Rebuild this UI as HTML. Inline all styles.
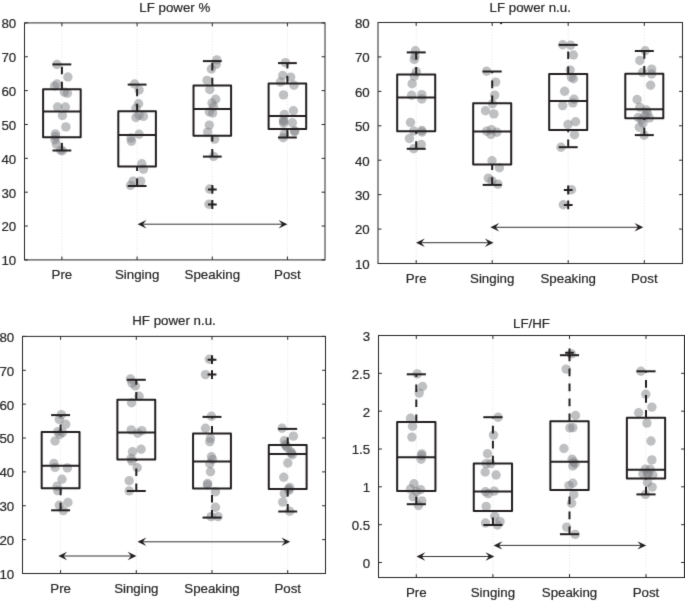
<!DOCTYPE html>
<html><head><meta charset="utf-8"><style>
html,body{margin:0;padding:0;background:#fff;}
body{width:685px;height:603px;overflow:hidden;}
svg{display:block;font-family:"Liberation Sans", sans-serif;font-size:13.3px;fill:#262626;}
text{stroke:#262626;stroke-width:0.2px;}
</style></head><body>
<svg width="685" height="603" viewBox="0 0 685 603">
<defs><filter id="bl" x="0" y="0" width="685" height="603" filterUnits="userSpaceOnUse" color-interpolation-filters="sRGB"><feConvolveMatrix order="3" kernelMatrix="0.0100 0.0800 0.0100 0.0800 0.6400 0.0800 0.0100 0.0800 0.0100" preserveAlpha="true" edgeMode="duplicate"/></filter></defs>
<rect width="685" height="603" fill="#fff"/>
<g filter="url(#bl)">
<rect width="685" height="603" fill="#fff"/>
<line x1="61.9" y1="22.9" x2="61.9" y2="259.9" stroke="#ebebeb" stroke-width="1" stroke-dasharray="1.5 1.5"/>
<line x1="137.1" y1="22.9" x2="137.1" y2="259.9" stroke="#ebebeb" stroke-width="1" stroke-dasharray="1.5 1.5"/>
<line x1="212.3" y1="22.9" x2="212.3" y2="259.9" stroke="#ebebeb" stroke-width="1" stroke-dasharray="1.5 1.5"/>
<line x1="287.4" y1="22.9" x2="287.4" y2="259.9" stroke="#ebebeb" stroke-width="1" stroke-dasharray="1.5 1.5"/>
<circle cx="56.9" cy="64.5" r="4.7" fill="#808285" fill-opacity="0.5"/>
<circle cx="67.9" cy="77" r="4.7" fill="#808285" fill-opacity="0.5"/>
<circle cx="54.5" cy="86" r="4.7" fill="#808285" fill-opacity="0.5"/>
<circle cx="57" cy="84" r="4.7" fill="#808285" fill-opacity="0.5"/>
<circle cx="64.4" cy="92.3" r="4.7" fill="#808285" fill-opacity="0.5"/>
<circle cx="67.4" cy="93.3" r="4.7" fill="#808285" fill-opacity="0.5"/>
<circle cx="57.6" cy="107" r="4.7" fill="#808285" fill-opacity="0.5"/>
<circle cx="65.4" cy="107" r="4.7" fill="#808285" fill-opacity="0.5"/>
<circle cx="62.4" cy="115.4" r="4.7" fill="#808285" fill-opacity="0.5"/>
<circle cx="65.9" cy="126.9" r="4.7" fill="#808285" fill-opacity="0.5"/>
<circle cx="55.4" cy="133.9" r="4.7" fill="#808285" fill-opacity="0.5"/>
<circle cx="54.9" cy="139.8" r="4.7" fill="#808285" fill-opacity="0.5"/>
<circle cx="56.4" cy="144.3" r="4.7" fill="#808285" fill-opacity="0.5"/>
<circle cx="60.6" cy="150.2" r="4.7" fill="#808285" fill-opacity="0.5"/>
<circle cx="62.4" cy="150.8" r="4.7" fill="#808285" fill-opacity="0.5"/>
<circle cx="55.6" cy="136.5" r="4.7" fill="#808285" fill-opacity="0.5"/>
<circle cx="134.6" cy="84" r="4.7" fill="#808285" fill-opacity="0.5"/>
<circle cx="139.1" cy="90" r="4.7" fill="#808285" fill-opacity="0.5"/>
<circle cx="138.6" cy="103.7" r="4.7" fill="#808285" fill-opacity="0.5"/>
<circle cx="135.9" cy="108.3" r="4.7" fill="#808285" fill-opacity="0.5"/>
<circle cx="139.1" cy="115.3" r="4.7" fill="#808285" fill-opacity="0.5"/>
<circle cx="143.4" cy="116.4" r="4.7" fill="#808285" fill-opacity="0.5"/>
<circle cx="135.9" cy="117.5" r="4.7" fill="#808285" fill-opacity="0.5"/>
<circle cx="139.1" cy="134.2" r="4.7" fill="#808285" fill-opacity="0.5"/>
<circle cx="131" cy="138" r="4.7" fill="#808285" fill-opacity="0.5"/>
<circle cx="131.4" cy="141.2" r="4.7" fill="#808285" fill-opacity="0.5"/>
<circle cx="141.8" cy="163.8" r="4.7" fill="#808285" fill-opacity="0.5"/>
<circle cx="143.4" cy="169.2" r="4.7" fill="#808285" fill-opacity="0.5"/>
<circle cx="140.7" cy="181.1" r="4.7" fill="#808285" fill-opacity="0.5"/>
<circle cx="133.2" cy="181.1" r="4.7" fill="#808285" fill-opacity="0.5"/>
<circle cx="130.5" cy="185.4" r="4.7" fill="#808285" fill-opacity="0.5"/>
<circle cx="216.8" cy="59.9" r="4.7" fill="#808285" fill-opacity="0.5"/>
<circle cx="216.3" cy="64.2" r="4.7" fill="#808285" fill-opacity="0.5"/>
<circle cx="211.4" cy="69" r="4.7" fill="#808285" fill-opacity="0.5"/>
<circle cx="207.1" cy="80.4" r="4.7" fill="#808285" fill-opacity="0.5"/>
<circle cx="209.8" cy="89.5" r="4.7" fill="#808285" fill-opacity="0.5"/>
<circle cx="215.7" cy="99.2" r="4.7" fill="#808285" fill-opacity="0.5"/>
<circle cx="212" cy="103" r="4.7" fill="#808285" fill-opacity="0.5"/>
<circle cx="213.6" cy="106.8" r="4.7" fill="#808285" fill-opacity="0.5"/>
<circle cx="209.4" cy="111.9" r="4.7" fill="#808285" fill-opacity="0.5"/>
<circle cx="212.6" cy="113" r="4.7" fill="#808285" fill-opacity="0.5"/>
<circle cx="209.3" cy="125.1" r="4.7" fill="#808285" fill-opacity="0.5"/>
<circle cx="207.7" cy="132.1" r="4.7" fill="#808285" fill-opacity="0.5"/>
<circle cx="214.7" cy="139.1" r="4.7" fill="#808285" fill-opacity="0.5"/>
<circle cx="213.6" cy="156.4" r="4.7" fill="#808285" fill-opacity="0.5"/>
<circle cx="209.6" cy="189" r="4.7" fill="#808285" fill-opacity="0.5"/>
<circle cx="209" cy="204.3" r="4.7" fill="#808285" fill-opacity="0.5"/>
<circle cx="285.4" cy="62.6" r="4.7" fill="#808285" fill-opacity="0.5"/>
<circle cx="282.7" cy="75.5" r="4.7" fill="#808285" fill-opacity="0.5"/>
<circle cx="290.7" cy="77.1" r="4.7" fill="#808285" fill-opacity="0.5"/>
<circle cx="280.5" cy="82" r="4.7" fill="#808285" fill-opacity="0.5"/>
<circle cx="294" cy="85.2" r="4.7" fill="#808285" fill-opacity="0.5"/>
<circle cx="283.5" cy="94.9" r="4.7" fill="#808285" fill-opacity="0.5"/>
<circle cx="293.4" cy="110.7" r="4.7" fill="#808285" fill-opacity="0.5"/>
<circle cx="284.3" cy="114.5" r="4.7" fill="#808285" fill-opacity="0.5"/>
<circle cx="283.7" cy="120" r="4.7" fill="#808285" fill-opacity="0.5"/>
<circle cx="283.7" cy="123.2" r="4.7" fill="#808285" fill-opacity="0.5"/>
<circle cx="292.4" cy="122.7" r="4.7" fill="#808285" fill-opacity="0.5"/>
<circle cx="294.5" cy="131.8" r="4.7" fill="#808285" fill-opacity="0.5"/>
<circle cx="284.3" cy="134" r="4.7" fill="#808285" fill-opacity="0.5"/>
<circle cx="283.2" cy="137.8" r="4.7" fill="#808285" fill-opacity="0.5"/>
<circle cx="294.8" cy="130.8" r="4.7" fill="#808285" fill-opacity="0.5"/>
<circle cx="283.5" cy="121.5" r="4.7" fill="#808285" fill-opacity="0.5"/>
<rect x="43.11" y="89.3" width="37.58" height="47.9" fill="none" stroke="#231f20" stroke-width="2" stroke-linejoin="round"/>
<line x1="43.11" y1="111.6" x2="80.69" y2="111.6" stroke="#231f20" stroke-width="2"/>
<line x1="61.9" y1="89.3" x2="61.9" y2="64.4" stroke="#231f20" stroke-width="2" stroke-dasharray="7.6 7.4"/>
<line x1="61.9" y1="150.5" x2="61.9" y2="137.2" stroke="#231f20" stroke-width="2" stroke-dasharray="7.6 7.4"/>
<line x1="52.5" y1="64.4" x2="71.3" y2="64.4" stroke="#231f20" stroke-width="2"/>
<line x1="52.5" y1="150.5" x2="71.3" y2="150.5" stroke="#231f20" stroke-width="2"/>
<rect x="118.31" y="111.3" width="37.58" height="55.2" fill="none" stroke="#231f20" stroke-width="2" stroke-linejoin="round"/>
<line x1="118.31" y1="134.9" x2="155.89" y2="134.9" stroke="#231f20" stroke-width="2"/>
<line x1="137.1" y1="111.3" x2="137.1" y2="84.6" stroke="#231f20" stroke-width="2" stroke-dasharray="7.6 7.4"/>
<line x1="137.1" y1="186" x2="137.1" y2="166.5" stroke="#231f20" stroke-width="2" stroke-dasharray="7.6 7.4"/>
<line x1="127.7" y1="84.6" x2="146.5" y2="84.6" stroke="#231f20" stroke-width="2"/>
<line x1="127.7" y1="186" x2="146.5" y2="186" stroke="#231f20" stroke-width="2"/>
<rect x="193.51" y="85.4" width="37.58" height="50.3" fill="none" stroke="#231f20" stroke-width="2" stroke-linejoin="round"/>
<line x1="193.51" y1="108.9" x2="231.09" y2="108.9" stroke="#231f20" stroke-width="2"/>
<line x1="212.3" y1="85.4" x2="212.3" y2="61.1" stroke="#231f20" stroke-width="2" stroke-dasharray="7.6 7.4"/>
<line x1="212.3" y1="156.6" x2="212.3" y2="135.7" stroke="#231f20" stroke-width="2" stroke-dasharray="7.6 7.4"/>
<line x1="202.9" y1="61.1" x2="221.7" y2="61.1" stroke="#231f20" stroke-width="2"/>
<line x1="202.9" y1="156.6" x2="221.7" y2="156.6" stroke="#231f20" stroke-width="2"/>
<path d="M207.9 189.4H216.7M212.3 185V193.8" stroke="#231f20" stroke-width="2" fill="none"/>
<path d="M207.9 204.5H216.7M212.3 200.1V208.9" stroke="#231f20" stroke-width="2" fill="none"/>
<rect x="268.61" y="83.6" width="37.58" height="45.4" fill="none" stroke="#231f20" stroke-width="2" stroke-linejoin="round"/>
<line x1="268.61" y1="116.1" x2="306.19" y2="116.1" stroke="#231f20" stroke-width="2"/>
<line x1="287.4" y1="83.6" x2="287.4" y2="63.1" stroke="#231f20" stroke-width="2" stroke-dasharray="7.6 7.4"/>
<line x1="287.4" y1="137.5" x2="287.4" y2="129" stroke="#231f20" stroke-width="2" stroke-dasharray="7.6 7.4"/>
<line x1="278" y1="63.1" x2="296.8" y2="63.1" stroke="#231f20" stroke-width="2"/>
<line x1="278" y1="137.5" x2="296.8" y2="137.5" stroke="#231f20" stroke-width="2"/>
<line x1="140.6" y1="224.2" x2="284.4" y2="224.2" stroke="#333" stroke-width="1"/>
<path d="M137.6 224.2L146.4 220L142.9 224.2L146.4 228.4Z" fill="#231f20"/>
<path d="M287.4 224.2L278.6 220L282.1 224.2L278.6 228.4Z" fill="#231f20"/>
<rect x="24.5" y="22.9" width="300.5" height="237" fill="none" stroke="#262626" stroke-width="1"/>
<line x1="24.5" y1="259.9" x2="27.9" y2="259.9" stroke="#262626" stroke-width="1"/>
<line x1="325" y1="259.9" x2="321.6" y2="259.9" stroke="#262626" stroke-width="1"/>
<text transform="translate(16.2 265.3) scale(1 1.0)" text-anchor="end">10</text>
<line x1="24.5" y1="226.04" x2="27.9" y2="226.04" stroke="#262626" stroke-width="1"/>
<line x1="325" y1="226.04" x2="321.6" y2="226.04" stroke="#262626" stroke-width="1"/>
<text transform="translate(16.2 231.44) scale(1 1.0)" text-anchor="end">20</text>
<line x1="24.5" y1="192.19" x2="27.9" y2="192.19" stroke="#262626" stroke-width="1"/>
<line x1="325" y1="192.19" x2="321.6" y2="192.19" stroke="#262626" stroke-width="1"/>
<text transform="translate(16.2 197.59) scale(1 1.0)" text-anchor="end">30</text>
<line x1="24.5" y1="158.33" x2="27.9" y2="158.33" stroke="#262626" stroke-width="1"/>
<line x1="325" y1="158.33" x2="321.6" y2="158.33" stroke="#262626" stroke-width="1"/>
<text transform="translate(16.2 163.73) scale(1 1.0)" text-anchor="end">40</text>
<line x1="24.5" y1="124.47" x2="27.9" y2="124.47" stroke="#262626" stroke-width="1"/>
<line x1="325" y1="124.47" x2="321.6" y2="124.47" stroke="#262626" stroke-width="1"/>
<text transform="translate(16.2 129.87) scale(1 1.0)" text-anchor="end">50</text>
<line x1="24.5" y1="90.61" x2="27.9" y2="90.61" stroke="#262626" stroke-width="1"/>
<line x1="325" y1="90.61" x2="321.6" y2="90.61" stroke="#262626" stroke-width="1"/>
<text transform="translate(16.2 96.01) scale(1 1.0)" text-anchor="end">60</text>
<line x1="24.5" y1="56.76" x2="27.9" y2="56.76" stroke="#262626" stroke-width="1"/>
<line x1="325" y1="56.76" x2="321.6" y2="56.76" stroke="#262626" stroke-width="1"/>
<text transform="translate(16.2 62.16) scale(1 1.0)" text-anchor="end">70</text>
<line x1="24.5" y1="22.9" x2="27.9" y2="22.9" stroke="#262626" stroke-width="1"/>
<line x1="325" y1="22.9" x2="321.6" y2="22.9" stroke="#262626" stroke-width="1"/>
<text transform="translate(16.2 28.3) scale(1 1.0)" text-anchor="end">80</text>
<line x1="61.9" y1="259.9" x2="61.9" y2="256.5" stroke="#262626" stroke-width="1"/>
<line x1="61.9" y1="22.9" x2="61.9" y2="26.3" stroke="#262626" stroke-width="1"/>
<text transform="translate(61.9 279.1) scale(1 1.0)" text-anchor="middle">Pre</text>
<line x1="137.1" y1="259.9" x2="137.1" y2="256.5" stroke="#262626" stroke-width="1"/>
<line x1="137.1" y1="22.9" x2="137.1" y2="26.3" stroke="#262626" stroke-width="1"/>
<text transform="translate(137.1 279.1) scale(1 1.0)" text-anchor="middle">Singing</text>
<line x1="212.3" y1="259.9" x2="212.3" y2="256.5" stroke="#262626" stroke-width="1"/>
<line x1="212.3" y1="22.9" x2="212.3" y2="26.3" stroke="#262626" stroke-width="1"/>
<text transform="translate(212.3 279.1) scale(1 1.0)" text-anchor="middle">Speaking</text>
<line x1="287.4" y1="259.9" x2="287.4" y2="256.5" stroke="#262626" stroke-width="1"/>
<line x1="287.4" y1="22.9" x2="287.4" y2="26.3" stroke="#262626" stroke-width="1"/>
<text transform="translate(287.4 279.1) scale(1 1.0)" text-anchor="middle">Post</text>
<text transform="translate(174.75 12) scale(1 1.0)" text-anchor="middle">LF power %</text>
<line x1="416.2" y1="22.5" x2="416.2" y2="263.5" stroke="#ebebeb" stroke-width="1" stroke-dasharray="1.5 1.5"/>
<line x1="492.2" y1="22.5" x2="492.2" y2="263.5" stroke="#ebebeb" stroke-width="1" stroke-dasharray="1.5 1.5"/>
<line x1="568.2" y1="22.5" x2="568.2" y2="263.5" stroke="#ebebeb" stroke-width="1" stroke-dasharray="1.5 1.5"/>
<line x1="644.3" y1="22.5" x2="644.3" y2="263.5" stroke="#ebebeb" stroke-width="1" stroke-dasharray="1.5 1.5"/>
<circle cx="415.4" cy="50.8" r="4.7" fill="#808285" fill-opacity="0.5"/>
<circle cx="414.3" cy="59.4" r="4.7" fill="#808285" fill-opacity="0.5"/>
<circle cx="416.4" cy="71.8" r="4.7" fill="#808285" fill-opacity="0.5"/>
<circle cx="414.3" cy="76.1" r="4.7" fill="#808285" fill-opacity="0.5"/>
<circle cx="412.1" cy="83.7" r="4.7" fill="#808285" fill-opacity="0.5"/>
<circle cx="411.6" cy="95.3" r="4.7" fill="#808285" fill-opacity="0.5"/>
<circle cx="421.8" cy="94.6" r="4.7" fill="#808285" fill-opacity="0.5"/>
<circle cx="421.8" cy="99" r="4.7" fill="#808285" fill-opacity="0.5"/>
<circle cx="410.5" cy="122.4" r="4.7" fill="#808285" fill-opacity="0.5"/>
<circle cx="413.7" cy="131" r="4.7" fill="#808285" fill-opacity="0.5"/>
<circle cx="421.8" cy="130.5" r="4.7" fill="#808285" fill-opacity="0.5"/>
<circle cx="409.4" cy="138.5" r="4.7" fill="#808285" fill-opacity="0.5"/>
<circle cx="421.3" cy="144.5" r="4.7" fill="#808285" fill-opacity="0.5"/>
<circle cx="413.7" cy="148.8" r="4.7" fill="#808285" fill-opacity="0.5"/>
<circle cx="415" cy="56" r="4.7" fill="#808285" fill-opacity="0.5"/>
<circle cx="422" cy="132" r="4.7" fill="#808285" fill-opacity="0.5"/>
<circle cx="486.6" cy="71.3" r="4.7" fill="#808285" fill-opacity="0.5"/>
<circle cx="495.7" cy="82.1" r="4.7" fill="#808285" fill-opacity="0.5"/>
<circle cx="494.7" cy="95.1" r="4.7" fill="#808285" fill-opacity="0.5"/>
<circle cx="492.5" cy="103.7" r="4.7" fill="#808285" fill-opacity="0.5"/>
<circle cx="485.5" cy="110.7" r="4.7" fill="#808285" fill-opacity="0.5"/>
<circle cx="493.9" cy="113.9" r="4.7" fill="#808285" fill-opacity="0.5"/>
<circle cx="486.6" cy="131.2" r="4.7" fill="#808285" fill-opacity="0.5"/>
<circle cx="491.4" cy="129.6" r="4.7" fill="#808285" fill-opacity="0.5"/>
<circle cx="490.9" cy="134.4" r="4.7" fill="#808285" fill-opacity="0.5"/>
<circle cx="496.8" cy="132.3" r="4.7" fill="#808285" fill-opacity="0.5"/>
<circle cx="492" cy="160.8" r="4.7" fill="#808285" fill-opacity="0.5"/>
<circle cx="499.4" cy="167.7" r="4.7" fill="#808285" fill-opacity="0.5"/>
<circle cx="488.3" cy="178.1" r="4.7" fill="#808285" fill-opacity="0.5"/>
<circle cx="491.9" cy="180.9" r="4.7" fill="#808285" fill-opacity="0.5"/>
<circle cx="497.9" cy="184.1" r="4.7" fill="#808285" fill-opacity="0.5"/>
<circle cx="562.7" cy="44.7" r="4.7" fill="#808285" fill-opacity="0.5"/>
<circle cx="570.7" cy="45.2" r="4.7" fill="#808285" fill-opacity="0.5"/>
<circle cx="573.4" cy="55" r="4.7" fill="#808285" fill-opacity="0.5"/>
<circle cx="570.2" cy="70.1" r="4.7" fill="#808285" fill-opacity="0.5"/>
<circle cx="571.3" cy="77.1" r="4.7" fill="#808285" fill-opacity="0.5"/>
<circle cx="573.4" cy="78.7" r="4.7" fill="#808285" fill-opacity="0.5"/>
<circle cx="564.6" cy="91.2" r="4.7" fill="#808285" fill-opacity="0.5"/>
<circle cx="574" cy="99.2" r="4.7" fill="#808285" fill-opacity="0.5"/>
<circle cx="572.9" cy="102.9" r="4.7" fill="#808285" fill-opacity="0.5"/>
<circle cx="562.7" cy="105.6" r="4.7" fill="#808285" fill-opacity="0.5"/>
<circle cx="575.6" cy="121.8" r="4.7" fill="#808285" fill-opacity="0.5"/>
<circle cx="568" cy="124.5" r="4.7" fill="#808285" fill-opacity="0.5"/>
<circle cx="574.5" cy="134.8" r="4.7" fill="#808285" fill-opacity="0.5"/>
<circle cx="561" cy="147.2" r="4.7" fill="#808285" fill-opacity="0.5"/>
<circle cx="571.5" cy="189.8" r="4.7" fill="#808285" fill-opacity="0.5"/>
<circle cx="563.3" cy="204.7" r="4.7" fill="#808285" fill-opacity="0.5"/>
<circle cx="645.2" cy="50.8" r="4.7" fill="#808285" fill-opacity="0.5"/>
<circle cx="639.8" cy="60.5" r="4.7" fill="#808285" fill-opacity="0.5"/>
<circle cx="651.7" cy="69.1" r="4.7" fill="#808285" fill-opacity="0.5"/>
<circle cx="642.5" cy="72.4" r="4.7" fill="#808285" fill-opacity="0.5"/>
<circle cx="651.7" cy="74" r="4.7" fill="#808285" fill-opacity="0.5"/>
<circle cx="650.6" cy="85.3" r="4.7" fill="#808285" fill-opacity="0.5"/>
<circle cx="637.1" cy="99.5" r="4.7" fill="#808285" fill-opacity="0.5"/>
<circle cx="639.8" cy="107.3" r="4.7" fill="#808285" fill-opacity="0.5"/>
<circle cx="646.3" cy="110" r="4.7" fill="#808285" fill-opacity="0.5"/>
<circle cx="647.4" cy="113.2" r="4.7" fill="#808285" fill-opacity="0.5"/>
<circle cx="649.5" cy="118" r="4.7" fill="#808285" fill-opacity="0.5"/>
<circle cx="638.2" cy="117.5" r="4.7" fill="#808285" fill-opacity="0.5"/>
<circle cx="643" cy="122.9" r="4.7" fill="#808285" fill-opacity="0.5"/>
<circle cx="639.3" cy="127.2" r="4.7" fill="#808285" fill-opacity="0.5"/>
<circle cx="644.1" cy="135.3" r="4.7" fill="#808285" fill-opacity="0.5"/>
<circle cx="645" cy="115.5" r="4.7" fill="#808285" fill-opacity="0.5"/>
<circle cx="641.5" cy="119.5" r="4.7" fill="#808285" fill-opacity="0.5"/>
<rect x="397.19" y="74.5" width="38.02" height="56.7" fill="none" stroke="#231f20" stroke-width="2" stroke-linejoin="round"/>
<line x1="397.19" y1="97.5" x2="435.21" y2="97.5" stroke="#231f20" stroke-width="2"/>
<line x1="416.2" y1="74.5" x2="416.2" y2="52.4" stroke="#231f20" stroke-width="2" stroke-dasharray="7.6 7.4"/>
<line x1="416.2" y1="148.8" x2="416.2" y2="131.2" stroke="#231f20" stroke-width="2" stroke-dasharray="7.6 7.4"/>
<line x1="406.7" y1="52.4" x2="425.7" y2="52.4" stroke="#231f20" stroke-width="2"/>
<line x1="406.7" y1="148.8" x2="425.7" y2="148.8" stroke="#231f20" stroke-width="2"/>
<rect x="473.19" y="103.2" width="38.02" height="61.2" fill="none" stroke="#231f20" stroke-width="2" stroke-linejoin="round"/>
<line x1="473.19" y1="131.4" x2="511.21" y2="131.4" stroke="#231f20" stroke-width="2"/>
<line x1="492.2" y1="103.2" x2="492.2" y2="71.5" stroke="#231f20" stroke-width="2" stroke-dasharray="7.6 7.4"/>
<line x1="492.2" y1="184.9" x2="492.2" y2="164.4" stroke="#231f20" stroke-width="2" stroke-dasharray="7.6 7.4"/>
<line x1="482.7" y1="71.5" x2="501.7" y2="71.5" stroke="#231f20" stroke-width="2"/>
<line x1="482.7" y1="184.9" x2="501.7" y2="184.9" stroke="#231f20" stroke-width="2"/>
<rect x="549.19" y="74.1" width="38.02" height="55.8" fill="none" stroke="#231f20" stroke-width="2" stroke-linejoin="round"/>
<line x1="549.19" y1="101.1" x2="587.21" y2="101.1" stroke="#231f20" stroke-width="2"/>
<line x1="568.2" y1="74.1" x2="568.2" y2="44.9" stroke="#231f20" stroke-width="2" stroke-dasharray="7.6 7.4"/>
<line x1="568.2" y1="147.2" x2="568.2" y2="129.9" stroke="#231f20" stroke-width="2" stroke-dasharray="7.6 7.4"/>
<line x1="558.7" y1="44.9" x2="577.7" y2="44.9" stroke="#231f20" stroke-width="2"/>
<line x1="558.7" y1="147.2" x2="577.7" y2="147.2" stroke="#231f20" stroke-width="2"/>
<path d="M563.8 190H572.6M568.2 185.6V194.4" stroke="#231f20" stroke-width="2" fill="none"/>
<path d="M563.8 204.9H572.6M568.2 200.5V209.3" stroke="#231f20" stroke-width="2" fill="none"/>
<rect x="625.29" y="73.7" width="38.02" height="44.6" fill="none" stroke="#231f20" stroke-width="2" stroke-linejoin="round"/>
<line x1="625.29" y1="109.2" x2="663.31" y2="109.2" stroke="#231f20" stroke-width="2"/>
<line x1="644.3" y1="73.7" x2="644.3" y2="51" stroke="#231f20" stroke-width="2" stroke-dasharray="7.6 7.4"/>
<line x1="644.3" y1="135.1" x2="644.3" y2="118.3" stroke="#231f20" stroke-width="2" stroke-dasharray="7.6 7.4"/>
<line x1="634.8" y1="51" x2="653.8" y2="51" stroke="#231f20" stroke-width="2"/>
<line x1="634.8" y1="135.1" x2="653.8" y2="135.1" stroke="#231f20" stroke-width="2"/>
<line x1="419" y1="242.7" x2="490.6" y2="242.7" stroke="#333" stroke-width="1"/>
<path d="M416 242.7L424.8 238.5L421.3 242.7L424.8 246.9Z" fill="#231f20"/>
<path d="M493.6 242.7L484.8 238.5L488.3 242.7L484.8 246.9Z" fill="#231f20"/>
<line x1="493.4" y1="227.3" x2="640.3" y2="227.3" stroke="#333" stroke-width="1"/>
<path d="M490.4 227.3L499.2 223.1L495.7 227.3L499.2 231.5Z" fill="#231f20"/>
<path d="M643.3 227.3L634.5 223.1L638 227.3L634.5 231.5Z" fill="#231f20"/>
<rect x="378" y="22.5" width="304.5" height="241" fill="none" stroke="#262626" stroke-width="1"/>
<line x1="378" y1="263.5" x2="381.4" y2="263.5" stroke="#262626" stroke-width="1"/>
<line x1="682.5" y1="263.5" x2="679.1" y2="263.5" stroke="#262626" stroke-width="1"/>
<text transform="translate(369.7 268.9) scale(1 1.0)" text-anchor="end">10</text>
<line x1="378" y1="229.07" x2="381.4" y2="229.07" stroke="#262626" stroke-width="1"/>
<line x1="682.5" y1="229.07" x2="679.1" y2="229.07" stroke="#262626" stroke-width="1"/>
<text transform="translate(369.7 234.47) scale(1 1.0)" text-anchor="end">20</text>
<line x1="378" y1="194.64" x2="381.4" y2="194.64" stroke="#262626" stroke-width="1"/>
<line x1="682.5" y1="194.64" x2="679.1" y2="194.64" stroke="#262626" stroke-width="1"/>
<text transform="translate(369.7 200.04) scale(1 1.0)" text-anchor="end">30</text>
<line x1="378" y1="160.21" x2="381.4" y2="160.21" stroke="#262626" stroke-width="1"/>
<line x1="682.5" y1="160.21" x2="679.1" y2="160.21" stroke="#262626" stroke-width="1"/>
<text transform="translate(369.7 165.61) scale(1 1.0)" text-anchor="end">40</text>
<line x1="378" y1="125.79" x2="381.4" y2="125.79" stroke="#262626" stroke-width="1"/>
<line x1="682.5" y1="125.79" x2="679.1" y2="125.79" stroke="#262626" stroke-width="1"/>
<text transform="translate(369.7 131.19) scale(1 1.0)" text-anchor="end">50</text>
<line x1="378" y1="91.36" x2="381.4" y2="91.36" stroke="#262626" stroke-width="1"/>
<line x1="682.5" y1="91.36" x2="679.1" y2="91.36" stroke="#262626" stroke-width="1"/>
<text transform="translate(369.7 96.76) scale(1 1.0)" text-anchor="end">60</text>
<line x1="378" y1="56.93" x2="381.4" y2="56.93" stroke="#262626" stroke-width="1"/>
<line x1="682.5" y1="56.93" x2="679.1" y2="56.93" stroke="#262626" stroke-width="1"/>
<text transform="translate(369.7 62.33) scale(1 1.0)" text-anchor="end">70</text>
<line x1="378" y1="22.5" x2="381.4" y2="22.5" stroke="#262626" stroke-width="1"/>
<line x1="682.5" y1="22.5" x2="679.1" y2="22.5" stroke="#262626" stroke-width="1"/>
<text transform="translate(369.7 27.9) scale(1 1.0)" text-anchor="end">80</text>
<line x1="416.2" y1="263.5" x2="416.2" y2="260.1" stroke="#262626" stroke-width="1"/>
<line x1="416.2" y1="22.5" x2="416.2" y2="25.9" stroke="#262626" stroke-width="1"/>
<text transform="translate(416.2 282.7) scale(1 1.0)" text-anchor="middle">Pre</text>
<line x1="492.2" y1="263.5" x2="492.2" y2="260.1" stroke="#262626" stroke-width="1"/>
<line x1="492.2" y1="22.5" x2="492.2" y2="25.9" stroke="#262626" stroke-width="1"/>
<text transform="translate(492.2 282.7) scale(1 1.0)" text-anchor="middle">Singing</text>
<line x1="568.2" y1="263.5" x2="568.2" y2="260.1" stroke="#262626" stroke-width="1"/>
<line x1="568.2" y1="22.5" x2="568.2" y2="25.9" stroke="#262626" stroke-width="1"/>
<text transform="translate(568.2 282.7) scale(1 1.0)" text-anchor="middle">Speaking</text>
<line x1="644.3" y1="263.5" x2="644.3" y2="260.1" stroke="#262626" stroke-width="1"/>
<line x1="644.3" y1="22.5" x2="644.3" y2="25.9" stroke="#262626" stroke-width="1"/>
<text transform="translate(644.3 282.7) scale(1 1.0)" text-anchor="middle">Post</text>
<text transform="translate(530.25 11.7) scale(1 1.0)" text-anchor="middle">LF power n.u.</text>
<line x1="60.6" y1="336.4" x2="60.6" y2="573.5" stroke="#ebebeb" stroke-width="1" stroke-dasharray="1.5 1.5"/>
<line x1="136.3" y1="336.4" x2="136.3" y2="573.5" stroke="#ebebeb" stroke-width="1" stroke-dasharray="1.5 1.5"/>
<line x1="212" y1="336.4" x2="212" y2="573.5" stroke="#ebebeb" stroke-width="1" stroke-dasharray="1.5 1.5"/>
<line x1="287.7" y1="336.4" x2="287.7" y2="573.5" stroke="#ebebeb" stroke-width="1" stroke-dasharray="1.5 1.5"/>
<circle cx="61.4" cy="414.6" r="4.7" fill="#808285" fill-opacity="0.5"/>
<circle cx="59.3" cy="419.4" r="4.7" fill="#808285" fill-opacity="0.5"/>
<circle cx="65.7" cy="424.3" r="4.7" fill="#808285" fill-opacity="0.5"/>
<circle cx="57.7" cy="431.8" r="4.7" fill="#808285" fill-opacity="0.5"/>
<circle cx="62.5" cy="432.4" r="4.7" fill="#808285" fill-opacity="0.5"/>
<circle cx="59.8" cy="434.5" r="4.7" fill="#808285" fill-opacity="0.5"/>
<circle cx="55" cy="441" r="4.7" fill="#808285" fill-opacity="0.5"/>
<circle cx="53.9" cy="463.5" r="4.7" fill="#808285" fill-opacity="0.5"/>
<circle cx="55" cy="467.4" r="4.7" fill="#808285" fill-opacity="0.5"/>
<circle cx="67.4" cy="467.9" r="4.7" fill="#808285" fill-opacity="0.5"/>
<circle cx="62" cy="479.3" r="4.7" fill="#808285" fill-opacity="0.5"/>
<circle cx="57.1" cy="486.3" r="4.7" fill="#808285" fill-opacity="0.5"/>
<circle cx="57.7" cy="490.6" r="4.7" fill="#808285" fill-opacity="0.5"/>
<circle cx="59.3" cy="505.2" r="4.7" fill="#808285" fill-opacity="0.5"/>
<circle cx="67.9" cy="502.5" r="4.7" fill="#808285" fill-opacity="0.5"/>
<circle cx="63.3" cy="510.6" r="4.7" fill="#808285" fill-opacity="0.5"/>
<circle cx="130.5" cy="379" r="4.7" fill="#808285" fill-opacity="0.5"/>
<circle cx="132.1" cy="383.3" r="4.7" fill="#808285" fill-opacity="0.5"/>
<circle cx="135.4" cy="386" r="4.7" fill="#808285" fill-opacity="0.5"/>
<circle cx="139.1" cy="396.3" r="4.7" fill="#808285" fill-opacity="0.5"/>
<circle cx="131.6" cy="402.8" r="4.7" fill="#808285" fill-opacity="0.5"/>
<circle cx="131.2" cy="429.9" r="4.7" fill="#808285" fill-opacity="0.5"/>
<circle cx="141.8" cy="430.6" r="4.7" fill="#808285" fill-opacity="0.5"/>
<circle cx="137.8" cy="433.3" r="4.7" fill="#808285" fill-opacity="0.5"/>
<circle cx="141.1" cy="449.2" r="4.7" fill="#808285" fill-opacity="0.5"/>
<circle cx="132.5" cy="451.8" r="4.7" fill="#808285" fill-opacity="0.5"/>
<circle cx="131.2" cy="458.4" r="4.7" fill="#808285" fill-opacity="0.5"/>
<circle cx="131.9" cy="461.1" r="4.7" fill="#808285" fill-opacity="0.5"/>
<circle cx="137.2" cy="467.7" r="4.7" fill="#808285" fill-opacity="0.5"/>
<circle cx="129.2" cy="480.7" r="4.7" fill="#808285" fill-opacity="0.5"/>
<circle cx="129.2" cy="490.9" r="4.7" fill="#808285" fill-opacity="0.5"/>
<circle cx="209.3" cy="359.3" r="4.7" fill="#808285" fill-opacity="0.5"/>
<circle cx="205.5" cy="374.6" r="4.7" fill="#808285" fill-opacity="0.5"/>
<circle cx="211.4" cy="416.3" r="4.7" fill="#808285" fill-opacity="0.5"/>
<circle cx="205.5" cy="428.2" r="4.7" fill="#808285" fill-opacity="0.5"/>
<circle cx="210.4" cy="438.4" r="4.7" fill="#808285" fill-opacity="0.5"/>
<circle cx="209.8" cy="441.7" r="4.7" fill="#808285" fill-opacity="0.5"/>
<circle cx="211.4" cy="456.8" r="4.7" fill="#808285" fill-opacity="0.5"/>
<circle cx="212.5" cy="459.5" r="4.7" fill="#808285" fill-opacity="0.5"/>
<circle cx="209.8" cy="463.8" r="4.7" fill="#808285" fill-opacity="0.5"/>
<circle cx="210.5" cy="471.8" r="4.7" fill="#808285" fill-opacity="0.5"/>
<circle cx="207.4" cy="484.9" r="4.7" fill="#808285" fill-opacity="0.5"/>
<circle cx="215.5" cy="491.7" r="4.7" fill="#808285" fill-opacity="0.5"/>
<circle cx="215.5" cy="507.3" r="4.7" fill="#808285" fill-opacity="0.5"/>
<circle cx="211.1" cy="516.6" r="4.7" fill="#808285" fill-opacity="0.5"/>
<circle cx="218" cy="516.6" r="4.7" fill="#808285" fill-opacity="0.5"/>
<circle cx="207.6" cy="483.5" r="4.7" fill="#808285" fill-opacity="0.5"/>
<circle cx="282.1" cy="428.3" r="4.7" fill="#808285" fill-opacity="0.5"/>
<circle cx="293.4" cy="436.1" r="4.7" fill="#808285" fill-opacity="0.5"/>
<circle cx="284.3" cy="440.7" r="4.7" fill="#808285" fill-opacity="0.5"/>
<circle cx="285.4" cy="444.5" r="4.7" fill="#808285" fill-opacity="0.5"/>
<circle cx="287.5" cy="447.8" r="4.7" fill="#808285" fill-opacity="0.5"/>
<circle cx="291.3" cy="453.2" r="4.7" fill="#808285" fill-opacity="0.5"/>
<circle cx="292.4" cy="454.8" r="4.7" fill="#808285" fill-opacity="0.5"/>
<circle cx="287.8" cy="463" r="4.7" fill="#808285" fill-opacity="0.5"/>
<circle cx="283.7" cy="477.3" r="4.7" fill="#808285" fill-opacity="0.5"/>
<circle cx="289.7" cy="487.5" r="4.7" fill="#808285" fill-opacity="0.5"/>
<circle cx="289.1" cy="490.2" r="4.7" fill="#808285" fill-opacity="0.5"/>
<circle cx="284.3" cy="493.4" r="4.7" fill="#808285" fill-opacity="0.5"/>
<circle cx="282.7" cy="502.1" r="4.7" fill="#808285" fill-opacity="0.5"/>
<circle cx="289.7" cy="511.2" r="4.7" fill="#808285" fill-opacity="0.5"/>
<circle cx="286" cy="446" r="4.7" fill="#808285" fill-opacity="0.5"/>
<circle cx="291" cy="452" r="4.7" fill="#808285" fill-opacity="0.5"/>
<circle cx="288.5" cy="489" r="4.7" fill="#808285" fill-opacity="0.5"/>
<rect x="41.67" y="432" width="37.85" height="56.2" fill="none" stroke="#231f20" stroke-width="2" stroke-linejoin="round"/>
<line x1="41.67" y1="465.8" x2="79.53" y2="465.8" stroke="#231f20" stroke-width="2"/>
<line x1="60.6" y1="432" x2="60.6" y2="415.1" stroke="#231f20" stroke-width="2" stroke-dasharray="7.6 7.4"/>
<line x1="60.6" y1="510.3" x2="60.6" y2="488.2" stroke="#231f20" stroke-width="2" stroke-dasharray="7.6 7.4"/>
<line x1="51.14" y1="415.1" x2="70.06" y2="415.1" stroke="#231f20" stroke-width="2"/>
<line x1="51.14" y1="510.3" x2="70.06" y2="510.3" stroke="#231f20" stroke-width="2"/>
<rect x="117.38" y="399.7" width="37.85" height="59.8" fill="none" stroke="#231f20" stroke-width="2" stroke-linejoin="round"/>
<line x1="117.38" y1="432.6" x2="155.23" y2="432.6" stroke="#231f20" stroke-width="2"/>
<line x1="136.3" y1="399.7" x2="136.3" y2="379.8" stroke="#231f20" stroke-width="2" stroke-dasharray="7.6 7.4"/>
<line x1="136.3" y1="491" x2="136.3" y2="459.5" stroke="#231f20" stroke-width="2" stroke-dasharray="7.6 7.4"/>
<line x1="126.84" y1="379.8" x2="145.76" y2="379.8" stroke="#231f20" stroke-width="2"/>
<line x1="126.84" y1="491" x2="145.76" y2="491" stroke="#231f20" stroke-width="2"/>
<rect x="193.07" y="433.6" width="37.85" height="54.8" fill="none" stroke="#231f20" stroke-width="2" stroke-linejoin="round"/>
<line x1="193.07" y1="461.6" x2="230.93" y2="461.6" stroke="#231f20" stroke-width="2"/>
<line x1="212" y1="433.6" x2="212" y2="416.9" stroke="#231f20" stroke-width="2" stroke-dasharray="7.6 7.4"/>
<line x1="212" y1="517.6" x2="212" y2="488.4" stroke="#231f20" stroke-width="2" stroke-dasharray="7.6 7.4"/>
<line x1="202.54" y1="416.9" x2="221.46" y2="416.9" stroke="#231f20" stroke-width="2"/>
<line x1="202.54" y1="517.6" x2="221.46" y2="517.6" stroke="#231f20" stroke-width="2"/>
<path d="M207.6 359.7H216.4M212 355.3V364.1" stroke="#231f20" stroke-width="2" fill="none"/>
<path d="M207.6 374.6H216.4M212 370.2V379" stroke="#231f20" stroke-width="2" fill="none"/>
<rect x="268.77" y="445.1" width="37.85" height="43.8" fill="none" stroke="#231f20" stroke-width="2" stroke-linejoin="round"/>
<line x1="268.77" y1="454" x2="306.62" y2="454" stroke="#231f20" stroke-width="2"/>
<line x1="287.7" y1="445.1" x2="287.7" y2="428.9" stroke="#231f20" stroke-width="2" stroke-dasharray="7.6 7.4"/>
<line x1="287.7" y1="511.5" x2="287.7" y2="488.9" stroke="#231f20" stroke-width="2" stroke-dasharray="7.6 7.4"/>
<line x1="278.24" y1="428.9" x2="297.16" y2="428.9" stroke="#231f20" stroke-width="2"/>
<line x1="278.24" y1="511.5" x2="297.16" y2="511.5" stroke="#231f20" stroke-width="2"/>
<line x1="61.3" y1="556" x2="133.4" y2="556" stroke="#333" stroke-width="1"/>
<path d="M58.3 556L67.1 551.8L63.6 556L67.1 560.2Z" fill="#231f20"/>
<path d="M136.4 556L127.6 551.8L131.1 556L127.6 560.2Z" fill="#231f20"/>
<line x1="140.5" y1="541.8" x2="287.2" y2="541.8" stroke="#333" stroke-width="1"/>
<path d="M137.5 541.8L146.3 537.6L142.8 541.8L146.3 546Z" fill="#231f20"/>
<path d="M290.2 541.8L281.4 537.6L284.9 541.8L281.4 546Z" fill="#231f20"/>
<rect x="22.5" y="336.4" width="303" height="237.1" fill="none" stroke="#262626" stroke-width="1"/>
<line x1="22.5" y1="573.5" x2="25.9" y2="573.5" stroke="#262626" stroke-width="1"/>
<line x1="325.5" y1="573.5" x2="322.1" y2="573.5" stroke="#262626" stroke-width="1"/>
<text transform="translate(14.2 578.9) scale(1 1.0)" text-anchor="end">10</text>
<line x1="22.5" y1="539.63" x2="25.9" y2="539.63" stroke="#262626" stroke-width="1"/>
<line x1="325.5" y1="539.63" x2="322.1" y2="539.63" stroke="#262626" stroke-width="1"/>
<text transform="translate(14.2 545.03) scale(1 1.0)" text-anchor="end">20</text>
<line x1="22.5" y1="505.76" x2="25.9" y2="505.76" stroke="#262626" stroke-width="1"/>
<line x1="325.5" y1="505.76" x2="322.1" y2="505.76" stroke="#262626" stroke-width="1"/>
<text transform="translate(14.2 511.16) scale(1 1.0)" text-anchor="end">30</text>
<line x1="22.5" y1="471.89" x2="25.9" y2="471.89" stroke="#262626" stroke-width="1"/>
<line x1="325.5" y1="471.89" x2="322.1" y2="471.89" stroke="#262626" stroke-width="1"/>
<text transform="translate(14.2 477.29) scale(1 1.0)" text-anchor="end">40</text>
<line x1="22.5" y1="438.01" x2="25.9" y2="438.01" stroke="#262626" stroke-width="1"/>
<line x1="325.5" y1="438.01" x2="322.1" y2="438.01" stroke="#262626" stroke-width="1"/>
<text transform="translate(14.2 443.41) scale(1 1.0)" text-anchor="end">50</text>
<line x1="22.5" y1="404.14" x2="25.9" y2="404.14" stroke="#262626" stroke-width="1"/>
<line x1="325.5" y1="404.14" x2="322.1" y2="404.14" stroke="#262626" stroke-width="1"/>
<text transform="translate(14.2 409.54) scale(1 1.0)" text-anchor="end">60</text>
<line x1="22.5" y1="370.27" x2="25.9" y2="370.27" stroke="#262626" stroke-width="1"/>
<line x1="325.5" y1="370.27" x2="322.1" y2="370.27" stroke="#262626" stroke-width="1"/>
<text transform="translate(14.2 375.67) scale(1 1.0)" text-anchor="end">70</text>
<line x1="22.5" y1="336.4" x2="25.9" y2="336.4" stroke="#262626" stroke-width="1"/>
<line x1="325.5" y1="336.4" x2="322.1" y2="336.4" stroke="#262626" stroke-width="1"/>
<text transform="translate(14.2 341.8) scale(1 1.0)" text-anchor="end">80</text>
<line x1="60.6" y1="573.5" x2="60.6" y2="570.1" stroke="#262626" stroke-width="1"/>
<line x1="60.6" y1="336.4" x2="60.6" y2="339.8" stroke="#262626" stroke-width="1"/>
<text transform="translate(60.6 592.7) scale(1 1.0)" text-anchor="middle">Pre</text>
<line x1="136.3" y1="573.5" x2="136.3" y2="570.1" stroke="#262626" stroke-width="1"/>
<line x1="136.3" y1="336.4" x2="136.3" y2="339.8" stroke="#262626" stroke-width="1"/>
<text transform="translate(136.3 592.7) scale(1 1.0)" text-anchor="middle">Singing</text>
<line x1="212" y1="573.5" x2="212" y2="570.1" stroke="#262626" stroke-width="1"/>
<line x1="212" y1="336.4" x2="212" y2="339.8" stroke="#262626" stroke-width="1"/>
<text transform="translate(212 592.7) scale(1 1.0)" text-anchor="middle">Speaking</text>
<line x1="287.7" y1="573.5" x2="287.7" y2="570.1" stroke="#262626" stroke-width="1"/>
<line x1="287.7" y1="336.4" x2="287.7" y2="339.8" stroke="#262626" stroke-width="1"/>
<text transform="translate(287.7 592.7) scale(1 1.0)" text-anchor="middle">Post</text>
<text transform="translate(174 325.3) scale(1 1.0)" text-anchor="middle">HF power n.u.</text>
<line x1="416.3" y1="335.5" x2="416.3" y2="577.5" stroke="#ebebeb" stroke-width="1" stroke-dasharray="1.5 1.5"/>
<line x1="492.9" y1="335.5" x2="492.9" y2="577.5" stroke="#ebebeb" stroke-width="1" stroke-dasharray="1.5 1.5"/>
<line x1="569.5" y1="335.5" x2="569.5" y2="577.5" stroke="#ebebeb" stroke-width="1" stroke-dasharray="1.5 1.5"/>
<line x1="646" y1="335.5" x2="646" y2="577.5" stroke="#ebebeb" stroke-width="1" stroke-dasharray="1.5 1.5"/>
<circle cx="417.2" cy="373.9" r="4.7" fill="#808285" fill-opacity="0.5"/>
<circle cx="422.5" cy="386.5" r="4.7" fill="#808285" fill-opacity="0.5"/>
<circle cx="419.2" cy="393.1" r="4.7" fill="#808285" fill-opacity="0.5"/>
<circle cx="410.5" cy="418.3" r="4.7" fill="#808285" fill-opacity="0.5"/>
<circle cx="412.5" cy="426.3" r="4.7" fill="#808285" fill-opacity="0.5"/>
<circle cx="411.9" cy="437.1" r="4.7" fill="#808285" fill-opacity="0.5"/>
<circle cx="421.8" cy="453.9" r="4.7" fill="#808285" fill-opacity="0.5"/>
<circle cx="421.1" cy="459.2" r="4.7" fill="#808285" fill-opacity="0.5"/>
<circle cx="413.9" cy="483.7" r="4.7" fill="#808285" fill-opacity="0.5"/>
<circle cx="410.5" cy="489" r="4.7" fill="#808285" fill-opacity="0.5"/>
<circle cx="420.5" cy="489.6" r="4.7" fill="#808285" fill-opacity="0.5"/>
<circle cx="416.5" cy="491.6" r="4.7" fill="#808285" fill-opacity="0.5"/>
<circle cx="413.2" cy="496.9" r="4.7" fill="#808285" fill-opacity="0.5"/>
<circle cx="421.8" cy="500.9" r="4.7" fill="#808285" fill-opacity="0.5"/>
<circle cx="418.5" cy="505.5" r="4.7" fill="#808285" fill-opacity="0.5"/>
<circle cx="421.5" cy="455.5" r="4.7" fill="#808285" fill-opacity="0.5"/>
<circle cx="498.1" cy="417.2" r="4.7" fill="#808285" fill-opacity="0.5"/>
<circle cx="493.5" cy="435.1" r="4.7" fill="#808285" fill-opacity="0.5"/>
<circle cx="487.5" cy="453.7" r="4.7" fill="#808285" fill-opacity="0.5"/>
<circle cx="486.2" cy="463.6" r="4.7" fill="#808285" fill-opacity="0.5"/>
<circle cx="490.8" cy="463.6" r="4.7" fill="#808285" fill-opacity="0.5"/>
<circle cx="485.2" cy="472" r="4.7" fill="#808285" fill-opacity="0.5"/>
<circle cx="496.1" cy="475" r="4.7" fill="#808285" fill-opacity="0.5"/>
<circle cx="485.5" cy="491.8" r="4.7" fill="#808285" fill-opacity="0.5"/>
<circle cx="488.2" cy="493.8" r="4.7" fill="#808285" fill-opacity="0.5"/>
<circle cx="494.2" cy="491.1" r="4.7" fill="#808285" fill-opacity="0.5"/>
<circle cx="486.2" cy="506.4" r="4.7" fill="#808285" fill-opacity="0.5"/>
<circle cx="494.8" cy="516.3" r="4.7" fill="#808285" fill-opacity="0.5"/>
<circle cx="500.1" cy="521.6" r="4.7" fill="#808285" fill-opacity="0.5"/>
<circle cx="485.5" cy="523" r="4.7" fill="#808285" fill-opacity="0.5"/>
<circle cx="497.5" cy="525" r="4.7" fill="#808285" fill-opacity="0.5"/>
<circle cx="571.4" cy="353.9" r="4.7" fill="#808285" fill-opacity="0.5"/>
<circle cx="566.1" cy="369.1" r="4.7" fill="#808285" fill-opacity="0.5"/>
<circle cx="575.5" cy="415.5" r="4.7" fill="#808285" fill-opacity="0.5"/>
<circle cx="569.9" cy="427.9" r="4.7" fill="#808285" fill-opacity="0.5"/>
<circle cx="572.8" cy="427.6" r="4.7" fill="#808285" fill-opacity="0.5"/>
<circle cx="563.9" cy="448.5" r="4.7" fill="#808285" fill-opacity="0.5"/>
<circle cx="572.1" cy="459.3" r="4.7" fill="#808285" fill-opacity="0.5"/>
<circle cx="575.1" cy="463.7" r="4.7" fill="#808285" fill-opacity="0.5"/>
<circle cx="572.8" cy="466" r="4.7" fill="#808285" fill-opacity="0.5"/>
<circle cx="572.8" cy="483.2" r="4.7" fill="#808285" fill-opacity="0.5"/>
<circle cx="569" cy="485.6" r="4.7" fill="#808285" fill-opacity="0.5"/>
<circle cx="573.8" cy="494.5" r="4.7" fill="#808285" fill-opacity="0.5"/>
<circle cx="571.6" cy="503.2" r="4.7" fill="#808285" fill-opacity="0.5"/>
<circle cx="566.6" cy="527.1" r="4.7" fill="#808285" fill-opacity="0.5"/>
<circle cx="575.2" cy="534.4" r="4.7" fill="#808285" fill-opacity="0.5"/>
<circle cx="573.5" cy="462" r="4.7" fill="#808285" fill-opacity="0.5"/>
<circle cx="640.9" cy="371.3" r="4.7" fill="#808285" fill-opacity="0.5"/>
<circle cx="645.8" cy="394.2" r="4.7" fill="#808285" fill-opacity="0.5"/>
<circle cx="651.9" cy="407.1" r="4.7" fill="#808285" fill-opacity="0.5"/>
<circle cx="638.6" cy="412.8" r="4.7" fill="#808285" fill-opacity="0.5"/>
<circle cx="646.9" cy="423.1" r="4.7" fill="#808285" fill-opacity="0.5"/>
<circle cx="651" cy="441" r="4.7" fill="#808285" fill-opacity="0.5"/>
<circle cx="651.9" cy="459.9" r="4.7" fill="#808285" fill-opacity="0.5"/>
<circle cx="645.3" cy="469.2" r="4.7" fill="#808285" fill-opacity="0.5"/>
<circle cx="650.2" cy="469.2" r="4.7" fill="#808285" fill-opacity="0.5"/>
<circle cx="642.9" cy="473.8" r="4.7" fill="#808285" fill-opacity="0.5"/>
<circle cx="648.2" cy="473.8" r="4.7" fill="#808285" fill-opacity="0.5"/>
<circle cx="652.8" cy="475.1" r="4.7" fill="#808285" fill-opacity="0.5"/>
<circle cx="647.5" cy="482.4" r="4.7" fill="#808285" fill-opacity="0.5"/>
<circle cx="652.2" cy="487.1" r="4.7" fill="#808285" fill-opacity="0.5"/>
<circle cx="645.5" cy="494.4" r="4.7" fill="#808285" fill-opacity="0.5"/>
<circle cx="647.5" cy="474" r="4.7" fill="#808285" fill-opacity="0.5"/>
<rect x="397.16" y="422" width="38.28" height="69" fill="none" stroke="#231f20" stroke-width="2" stroke-linejoin="round"/>
<line x1="397.16" y1="457.2" x2="435.44" y2="457.2" stroke="#231f20" stroke-width="2"/>
<line x1="416.3" y1="422" x2="416.3" y2="374.3" stroke="#231f20" stroke-width="2" stroke-dasharray="7.6 7.4"/>
<line x1="416.3" y1="504.2" x2="416.3" y2="491" stroke="#231f20" stroke-width="2" stroke-dasharray="7.6 7.4"/>
<line x1="406.73" y1="374.3" x2="425.87" y2="374.3" stroke="#231f20" stroke-width="2"/>
<line x1="406.73" y1="504.2" x2="425.87" y2="504.2" stroke="#231f20" stroke-width="2"/>
<rect x="473.76" y="463.4" width="38.28" height="47.6" fill="none" stroke="#231f20" stroke-width="2" stroke-linejoin="round"/>
<line x1="473.76" y1="491.4" x2="512.04" y2="491.4" stroke="#231f20" stroke-width="2"/>
<line x1="492.9" y1="463.4" x2="492.9" y2="417.2" stroke="#231f20" stroke-width="2" stroke-dasharray="7.6 7.4"/>
<line x1="492.9" y1="525" x2="492.9" y2="511" stroke="#231f20" stroke-width="2" stroke-dasharray="7.6 7.4"/>
<line x1="483.33" y1="417.2" x2="502.47" y2="417.2" stroke="#231f20" stroke-width="2"/>
<line x1="483.33" y1="525" x2="502.47" y2="525" stroke="#231f20" stroke-width="2"/>
<rect x="550.36" y="421.2" width="38.28" height="68.7" fill="none" stroke="#231f20" stroke-width="2" stroke-linejoin="round"/>
<line x1="550.36" y1="461.8" x2="588.64" y2="461.8" stroke="#231f20" stroke-width="2"/>
<line x1="569.5" y1="421.2" x2="569.5" y2="355.2" stroke="#231f20" stroke-width="2" stroke-dasharray="7.6 7.4"/>
<line x1="569.5" y1="534.2" x2="569.5" y2="489.9" stroke="#231f20" stroke-width="2" stroke-dasharray="7.6 7.4"/>
<line x1="559.93" y1="355.2" x2="579.07" y2="355.2" stroke="#231f20" stroke-width="2"/>
<line x1="559.93" y1="534.2" x2="579.07" y2="534.2" stroke="#231f20" stroke-width="2"/>
<path d="M565.1 352.8H573.9M569.5 348.4V357.2" stroke="#231f20" stroke-width="2" fill="none"/>
<rect x="626.86" y="417.7" width="38.28" height="60.8" fill="none" stroke="#231f20" stroke-width="2" stroke-linejoin="round"/>
<line x1="626.86" y1="469.8" x2="665.14" y2="469.8" stroke="#231f20" stroke-width="2"/>
<line x1="646" y1="417.7" x2="646" y2="371.3" stroke="#231f20" stroke-width="2" stroke-dasharray="7.6 7.4"/>
<line x1="646" y1="494.4" x2="646" y2="478.5" stroke="#231f20" stroke-width="2" stroke-dasharray="7.6 7.4"/>
<line x1="636.43" y1="371.3" x2="655.57" y2="371.3" stroke="#231f20" stroke-width="2"/>
<line x1="636.43" y1="494.4" x2="655.57" y2="494.4" stroke="#231f20" stroke-width="2"/>
<line x1="419.5" y1="556.5" x2="491.3" y2="556.5" stroke="#333" stroke-width="1"/>
<path d="M416.5 556.5L425.3 552.3L421.8 556.5L425.3 560.7Z" fill="#231f20"/>
<path d="M494.3 556.5L485.5 552.3L489 556.5L485.5 560.7Z" fill="#231f20"/>
<line x1="496.6" y1="545.4" x2="643.2" y2="545.4" stroke="#333" stroke-width="1"/>
<path d="M493.6 545.4L502.4 541.2L498.9 545.4L502.4 549.6Z" fill="#231f20"/>
<path d="M646.2 545.4L637.4 541.2L640.9 545.4L637.4 549.6Z" fill="#231f20"/>
<rect x="378.5" y="335.5" width="306" height="242" fill="none" stroke="#262626" stroke-width="1"/>
<line x1="378.5" y1="562.5" x2="381.9" y2="562.5" stroke="#262626" stroke-width="1"/>
<line x1="684.5" y1="562.5" x2="681.1" y2="562.5" stroke="#262626" stroke-width="1"/>
<text transform="translate(370.2 567.9) scale(1 1.0)" text-anchor="end">0</text>
<line x1="378.5" y1="524.66" x2="381.9" y2="524.66" stroke="#262626" stroke-width="1"/>
<line x1="684.5" y1="524.66" x2="681.1" y2="524.66" stroke="#262626" stroke-width="1"/>
<text transform="translate(370.2 530.06) scale(1 1.0)" text-anchor="end">0.5</text>
<line x1="378.5" y1="486.83" x2="381.9" y2="486.83" stroke="#262626" stroke-width="1"/>
<line x1="684.5" y1="486.83" x2="681.1" y2="486.83" stroke="#262626" stroke-width="1"/>
<text transform="translate(370.2 492.23) scale(1 1.0)" text-anchor="end">1</text>
<line x1="378.5" y1="449" x2="381.9" y2="449" stroke="#262626" stroke-width="1"/>
<line x1="684.5" y1="449" x2="681.1" y2="449" stroke="#262626" stroke-width="1"/>
<text transform="translate(370.2 454.39) scale(1 1.0)" text-anchor="end">1.5</text>
<line x1="378.5" y1="411.16" x2="381.9" y2="411.16" stroke="#262626" stroke-width="1"/>
<line x1="684.5" y1="411.16" x2="681.1" y2="411.16" stroke="#262626" stroke-width="1"/>
<text transform="translate(370.2 416.56) scale(1 1.0)" text-anchor="end">2</text>
<line x1="378.5" y1="373.32" x2="381.9" y2="373.32" stroke="#262626" stroke-width="1"/>
<line x1="684.5" y1="373.32" x2="681.1" y2="373.32" stroke="#262626" stroke-width="1"/>
<text transform="translate(370.2 378.72) scale(1 1.0)" text-anchor="end">2.5</text>
<line x1="378.5" y1="335.49" x2="381.9" y2="335.49" stroke="#262626" stroke-width="1"/>
<line x1="684.5" y1="335.49" x2="681.1" y2="335.49" stroke="#262626" stroke-width="1"/>
<text transform="translate(370.2 340.89) scale(1 1.0)" text-anchor="end">3</text>
<line x1="416.3" y1="577.5" x2="416.3" y2="574.1" stroke="#262626" stroke-width="1"/>
<line x1="416.3" y1="335.5" x2="416.3" y2="338.9" stroke="#262626" stroke-width="1"/>
<text transform="translate(416.3 596.7) scale(1 1.0)" text-anchor="middle">Pre</text>
<line x1="492.9" y1="577.5" x2="492.9" y2="574.1" stroke="#262626" stroke-width="1"/>
<line x1="492.9" y1="335.5" x2="492.9" y2="338.9" stroke="#262626" stroke-width="1"/>
<text transform="translate(492.9 596.7) scale(1 1.0)" text-anchor="middle">Singing</text>
<line x1="569.5" y1="577.5" x2="569.5" y2="574.1" stroke="#262626" stroke-width="1"/>
<line x1="569.5" y1="335.5" x2="569.5" y2="338.9" stroke="#262626" stroke-width="1"/>
<text transform="translate(569.5 596.7) scale(1 1.0)" text-anchor="middle">Speaking</text>
<line x1="646" y1="577.5" x2="646" y2="574.1" stroke="#262626" stroke-width="1"/>
<line x1="646" y1="335.5" x2="646" y2="338.9" stroke="#262626" stroke-width="1"/>
<text transform="translate(646 596.7) scale(1 1.0)" text-anchor="middle">Post</text>
<text transform="translate(531.5 328.2) scale(1 1.0)" text-anchor="middle">LF/HF</text>
<rect x="500.1" y="22.3" width="2" height="1.8" fill="#231f20"/>
</g>
</svg>
</body></html>
